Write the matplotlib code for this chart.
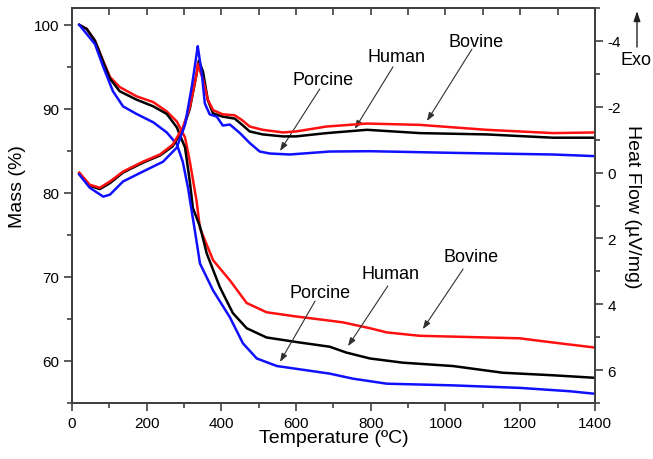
import matplotlib
matplotlib.use("Agg")
import matplotlib.pyplot as plt
from matplotlib.ticker import MultipleLocator

plt.rcParams['font.family'] = ['Liberation Sans', 'DejaVu Sans']
plt.rcParams['axes.unicode_minus'] = False

# TGA mass curves (%), left axis
t_mass_bovine = [20, 40, 62, 84, 102, 128, 173, 218, 254, 281, 303, 316, 334, 343,
                 378, 423, 468, 521, 600, 690, 725, 798, 843, 931, 1110, 1199, 1288, 1400]
mass_bovine = [100, 99.5, 98.1, 95.7, 93.8, 92.6, 91.5, 90.8, 89.7, 88.5, 86.6, 83.7, 79, 75.8,
               72, 69.6, 66.9, 65.8, 65.3, 64.8, 64.6, 63.9, 63.4, 63.0, 62.8, 62.7, 62.2, 61.6]

t_mass_human = [20, 40, 62, 84, 102, 128, 173, 218, 254, 281, 303, 316, 324, 343, 361,
                396, 431, 468, 521, 610, 690, 735, 798, 886, 1020, 1154, 1288, 1400]
mass_human = [100, 99.5, 98.1, 95.6, 93.6, 92.1, 91.1, 90.3, 89.4, 87.8, 85.4, 81.3, 78.2, 76, 72.8,
              68.8, 65.7, 63.9, 62.8, 62.2, 61.7, 61.0, 60.3, 59.8, 59.4, 58.6, 58.3, 58.0]

t_mass_porcine = [20, 62, 84, 110, 137, 173, 218, 254, 281, 297, 311, 321, 329, 343,
                  378, 423, 458, 495, 549, 690, 752, 843, 1020, 1199, 1333, 1400]
mass_porcine = [100, 97.7, 95.0, 92.1, 90.3, 89.4, 88.4, 87.2, 85.8, 83.7, 80.6, 77.8, 75.6, 71.6,
                68.4, 65.2, 62.1, 60.3, 59.4, 58.5, 57.9, 57.3, 57.1, 56.8, 56.4, 56.1]

# DSC heat flow curves (uV/mg), right axis (inverted, exo up)
t_hf_bovine = [20, 48, 75, 102, 137, 190, 236, 270, 297, 316, 334, 337, 351, 364, 378, 404,
               436, 455, 476, 511, 565, 600, 682, 790, 931, 1110, 1288, 1400]
hf_bovine = [0.0, 0.37, 0.46, 0.27, -0.03, -0.33, -0.55, -0.85, -1.37, -2.0, -3.0, -3.3, -2.83,
             -2.22, -1.9, -1.77, -1.74, -1.6, -1.4, -1.3, -1.22, -1.25, -1.4, -1.49, -1.45,
             -1.3, -1.2, -1.22]

t_hf_human = [20, 48, 75, 102, 137, 190, 236, 270, 297, 316, 334, 340, 351, 364, 378, 404,
              436, 455, 476, 511, 565, 600, 682, 790, 931, 1110, 1288, 1400]
hf_human = [0.02, 0.4, 0.5, 0.32, 0.0, -0.3, -0.52, -0.8, -1.3, -1.95, -3.0, -3.4, -3.07,
            -2.2, -1.8, -1.7, -1.64, -1.46, -1.25, -1.16, -1.1, -1.1, -1.2, -1.3, -1.2,
            -1.16, -1.06, -1.06]

t_hf_porcine = [20, 48, 84, 102, 137, 190, 244, 281, 303, 321, 334, 337, 348, 356, 369, 388,
                404, 423, 450, 476, 503, 530, 583, 690, 798, 1020, 1288, 1400]
hf_porcine = [0.06, 0.46, 0.73, 0.67, 0.27, -0.03, -0.33, -0.76, -1.46, -2.6, -3.6, -3.84, -3.0,
              -2.1, -1.77, -1.7, -1.43, -1.46, -1.2, -0.9, -0.64, -0.58, -0.55, -0.64, -0.65,
              -0.6, -0.55, -0.5]

labels = ["Porcine", "Human", "Bovine"]

fig = plt.figure(figsize=(6.53, 4.6), dpi=100)
ax = fig.add_axes([0.110, 0.1217, 0.801, 0.8587])
ax2 = ax.twinx()

lw = 1.8
red, blue = '#ff1010', '#1010ff'
ax.plot(t_mass_bovine, mass_bovine, color=red, lw=lw)
ax.plot(t_mass_human, mass_human, color='black', lw=lw)
ax.plot(t_mass_porcine, mass_porcine, color=blue, lw=lw)
ax2.plot(t_hf_human, hf_human, color='black', lw=lw)
ax2.plot(t_hf_bovine, hf_bovine, color=red, lw=lw)
ax2.plot(t_hf_porcine, hf_porcine, color=blue, lw=lw)

ax.set_xlim(0, 1400)
ax.set_ylim(55, 102)
ax2.set_ylim(7, -5)

spine_c = '#404040'
for a in (ax, ax2):
    for s in a.spines.values():
        s.set_color(spine_c)
        s.set_linewidth(1.3)

ax.xaxis.set_major_locator(MultipleLocator(200))
ax.xaxis.set_minor_locator(MultipleLocator(100))
ax.yaxis.set_major_locator(MultipleLocator(10))
ax.yaxis.set_minor_locator(MultipleLocator(5))
ax2.yaxis.set_major_locator(MultipleLocator(2))
ax2.yaxis.set_minor_locator(MultipleLocator(1))

for a in (ax, ax2):
    a.tick_params(which='major', direction='out', length=6, width=1.2, color=spine_c,
                  labelsize=11, pad=3)
    a.tick_params(which='minor', direction='out', length=3.5, width=1.2, color=spine_c)

top = ax.secondary_xaxis('top')
top.xaxis.set_major_locator(MultipleLocator(100))
top.tick_params(direction='in', length=5, width=1.2, color=spine_c, labeltop=False)
top.spines['top'].set_color(spine_c)
top.spines['top'].set_linewidth(1.3)

ax.set_xlabel("Temperature (ºC)", fontsize=14)
ax.xaxis.set_label_coords(0.5, -0.066)
ax.set_ylabel("Mass (%)", fontsize=14, va='center')
ax.yaxis.set_label_coords(-0.103, 0.55)
ax2.set_ylabel("Heat Flow (µV/mg)", fontsize=14, rotation=270, va='center')
ax2.yaxis.set_label_coords(1.071, 0.5)

# annotation arrows (axes fraction): text centre, arrow tail, arrow head
upper = [((0.480, 0.820), (0.474, 0.795), (0.398, 0.638)),
         ((0.621, 0.876), (0.614, 0.851), (0.541, 0.694)),
         ((0.772, 0.914), (0.765, 0.896), (0.679, 0.714))]
lower = [((0.474, 0.281), (0.465, 0.258), (0.398, 0.104)),
         ((0.610, 0.327), (0.604, 0.296), (0.528, 0.144)),
         ((0.763, 0.370), (0.748, 0.339), (0.671, 0.187))]
arrow = dict(arrowstyle='-|>,head_length=0.5,head_width=0.18', color='#303030', lw=0.8,
             shrinkA=0, shrinkB=0)
for group in (upper, lower):
    for name, (txt, tail, head) in zip(labels, group):
        ax.text(txt[0], txt[1], name, transform=ax.transAxes, fontsize=13,
                ha='center', va='center')
        ax.annotate('', xy=head, xytext=tail, xycoords='axes fraction',
                    textcoords='axes fraction', arrowprops=arrow)

# Exo marker
ax.annotate('', xy=(637, 448), xytext=(637, 412), xycoords='figure pixels',
            textcoords='figure pixels', annotation_clip=False,
            arrowprops=dict(arrowstyle='-|>,head_length=0.6,head_width=0.2',
                            color='#202020', lw=1.0, shrinkA=0, shrinkB=0))
fig.text(620, 399, "Exo", transform=None, fontsize=13, ha='left', va='center')

fig.savefig("out.png", dpi=100)
